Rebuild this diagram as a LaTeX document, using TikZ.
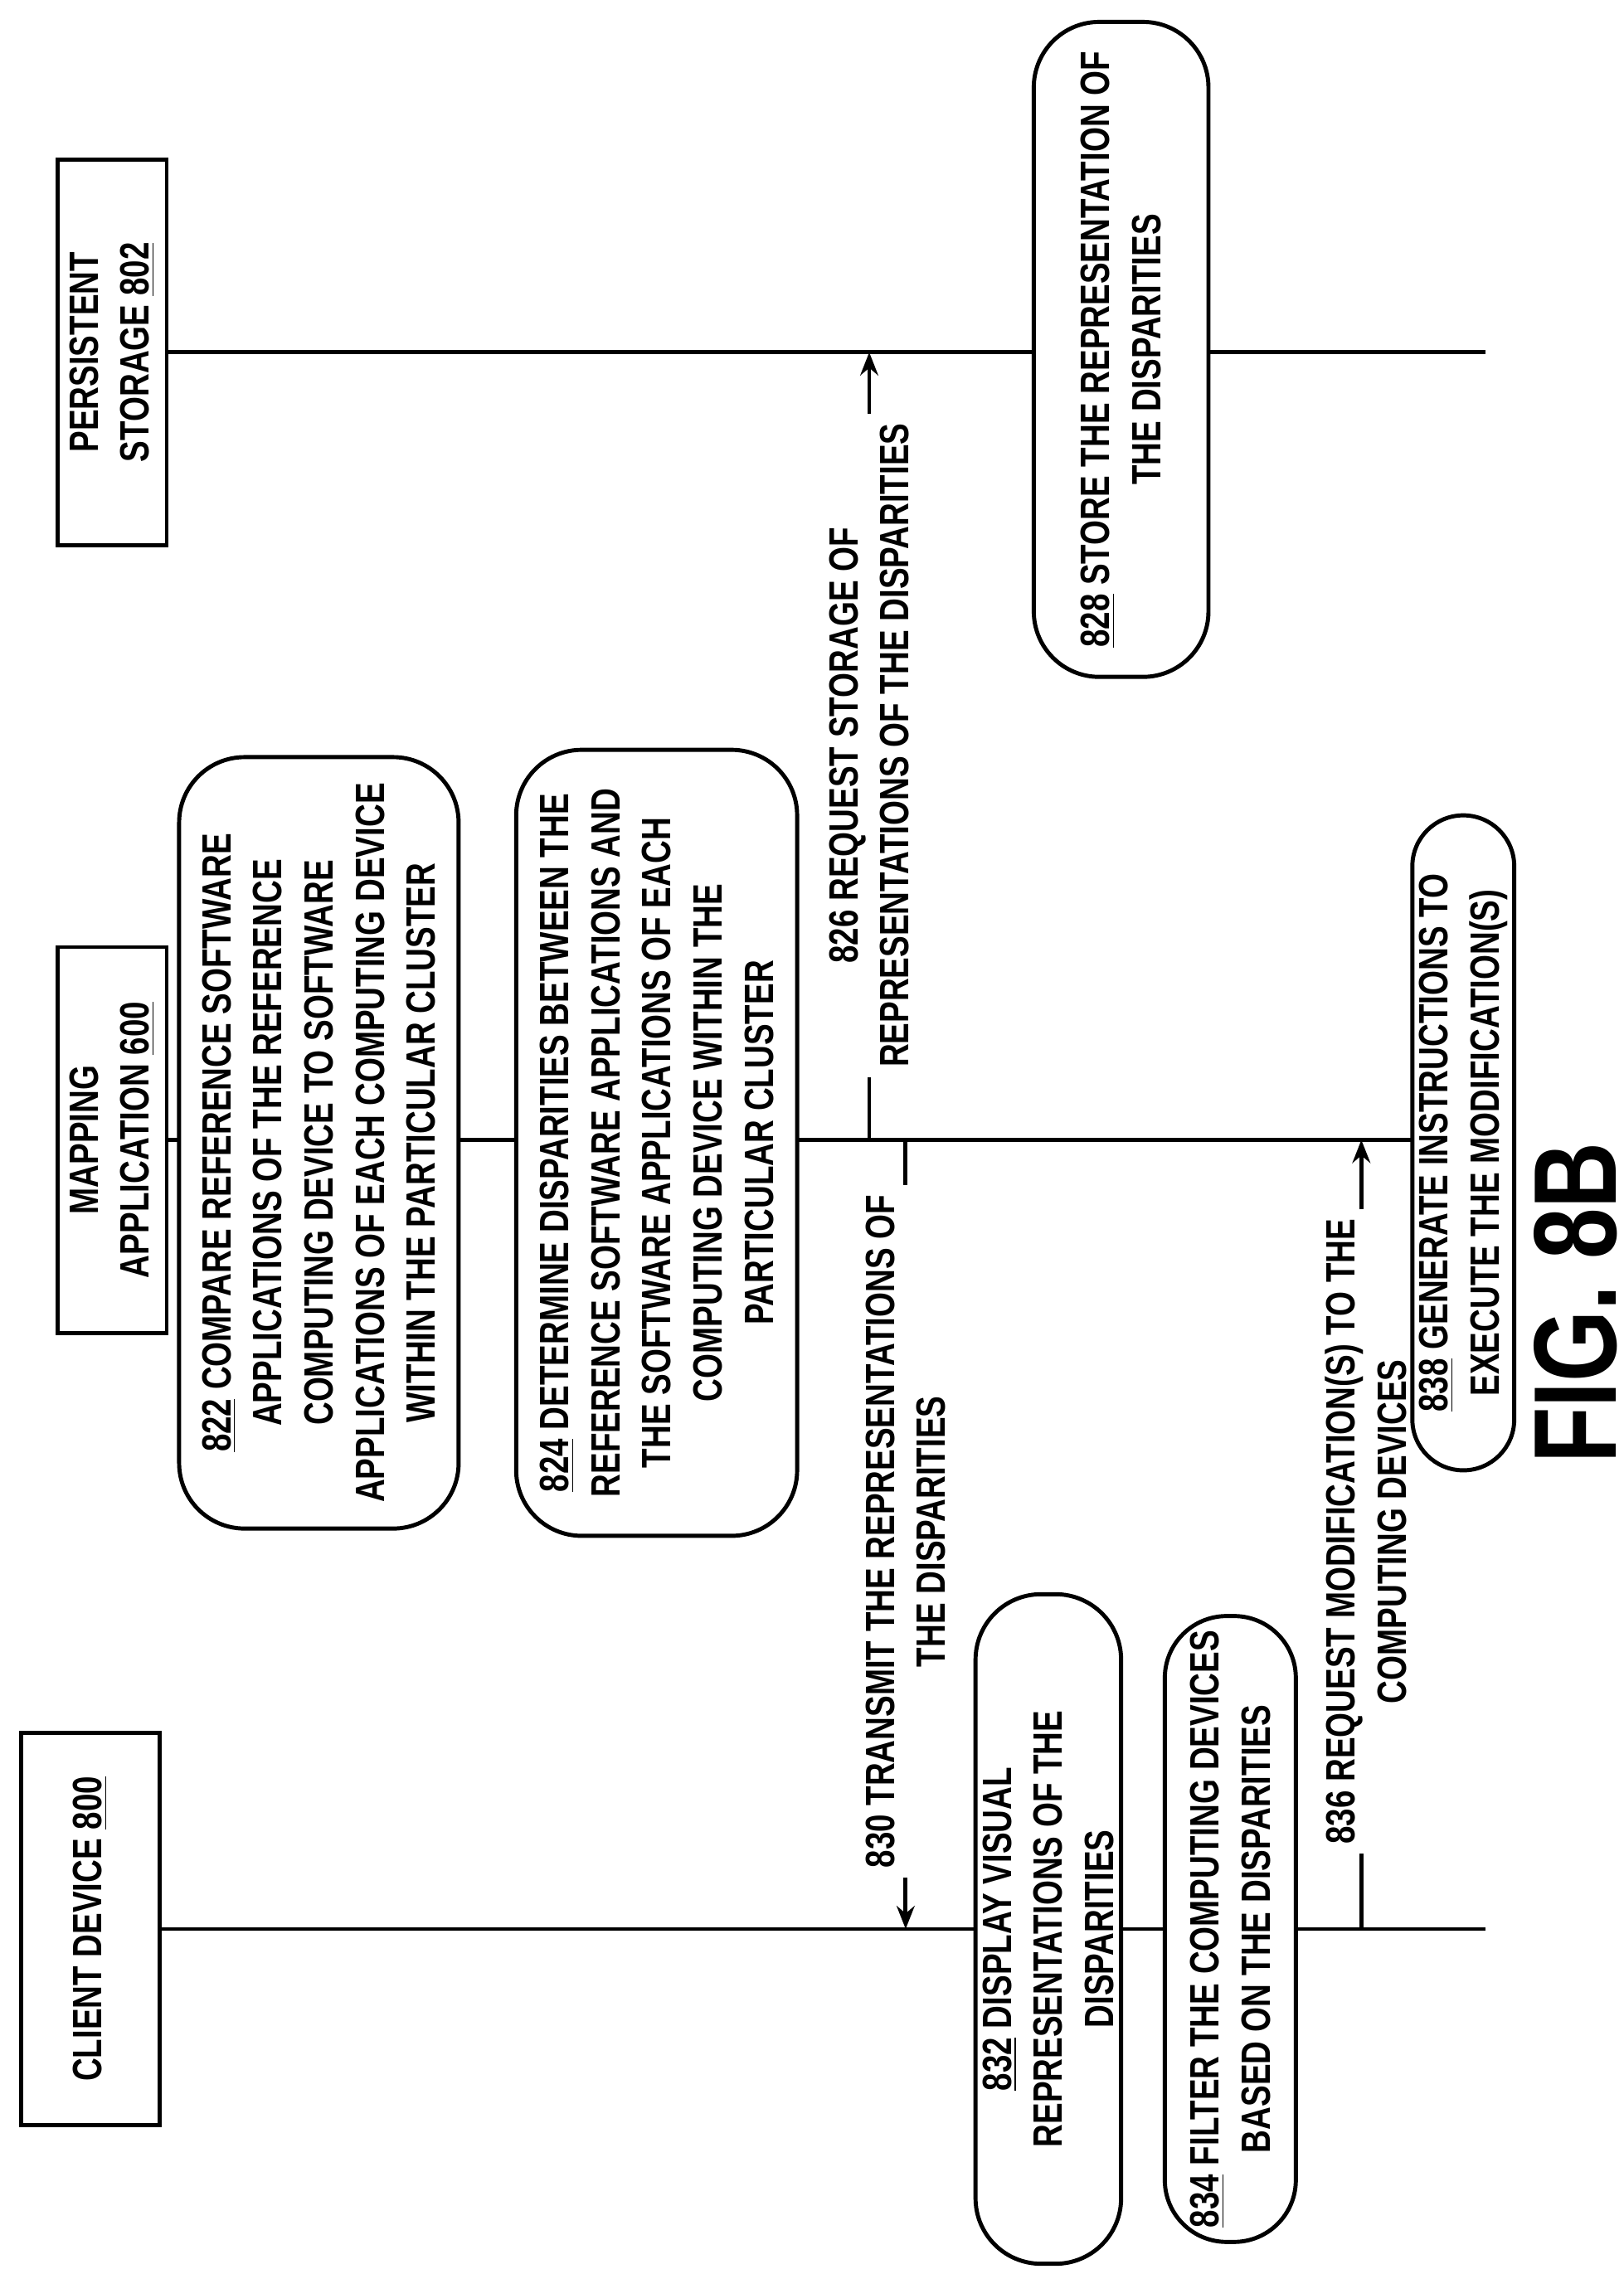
\documentclass[tikz,border=0pt]{standalone}
\usepackage{fontspec}
\setmainfont{Liberation Sans}[FakeStretch=0.78]
\usetikzlibrary{arrows.meta}
\begin{document}
\begin{tikzpicture}[x=0.02cm,y=-0.02cm,line width=1.6pt,
  every node/.style={font=\bfseries\fontsize{16}{20}\selectfont},
  head/.style={draw,rotate=90,align=center,fill=white,inner sep=2pt},
  action/.style={draw,rotate=90,align=center,fill=white,rounded corners=0.9cm,inner sep=2pt},
  msg/.style={rotate=90,align=center,inner sep=3pt},
  tip/.style={-{Stealth[length=9pt,width=7pt]}}]
\useasboundingbox (0,0) rectangle (1115,1562);
% lifelines
\draw (90,1325) -- (1020,1325);
\draw (115,783) -- (1020,783);
\draw (115,242) -- (1020,242);
% headers
\node[head,minimum width=5.4cm,minimum height=1.9cm] (client) at (62,1325) {CLIENT DEVICE \underline{800}};
\node[head,minimum width=5.3cm,minimum height=1.5cm] (mapping) at (77,783) {MAPPING\\APPLICATION \underline{600}};
\node[head,minimum width=5.3cm,minimum height=1.5cm] (storage) at (77,242) {PERSISTENT\\STORAGE \underline{802}};
% steps
\node[action,minimum width=10.6cm,minimum height=3.84cm] (s822) at (219,785) {\underline{822} COMPARE REFERENCE SOFTWARE\\APPLICATIONS OF THE REFERENCE\\COMPUTING DEVICE TO SOFTWARE\\APPLICATIONS OF EACH COMPUTING DEVICE\\WITHIN THE PARTICULAR CLUSTER};
\node[action,minimum width=10.8cm,minimum height=3.86cm] (s824) at (451,785) {\underline{824} DETERMINE DISPARITIES BETWEEN THE\\REFERENCE SOFTWARE APPLICATIONS AND\\THE SOFTWARE APPLICATIONS OF EACH\\COMPUTING DEVICE WITHIN THE\\PARTICULAR CLUSTER};
\node[action,minimum width=9.2cm,minimum height=2cm] (s832) at (720,1325) {\underline{832} DISPLAY VISUAL\\REPRESENTATIONS OF THE\\DISPARITIES};
\node[action,minimum width=8.6cm,minimum height=1.8cm,rounded corners=0.85cm] (s834) at (845,1325) {\underline{834} FILTER THE COMPUTING DEVICES\\BASED ON THE DISPARITIES};
\node[action,minimum width=9cm,minimum height=1.4cm,rounded corners=0.7cm] (s838) at (1005,785) {\underline{838} GENERATE INSTRUCTIONS TO\\EXECUTE THE MODIFICATION(S)};
\node[action,minimum width=9cm,minimum height=2.4cm] (s828) at (770,240) {\underline{828} STORE THE REPRESENTATION OF\\THE DISPARITIES};
% messages
\coordinate (a826) at (597,783);
\coordinate (b826) at (597,242);
\node[msg] (l826) at (597,512) {826 REQUEST STORAGE OF\\REPRESENTATIONS OF THE DISPARITIES};
\draw (a826) -- (a826 |- l826.west);
\draw[tip] (b826 |- l826.east) -- (b826);
\coordinate (a830) at (622,783);
\coordinate (b830) at (622,1325);
\node[msg] (l830) at (622,1052) {830 TRANSMIT THE REPRESENTATIONS OF\\THE DISPARITIES};
\draw (a830) -- (a830 |- l830.east);
\draw[tip] (b830 |- l830.west) -- (b830);
\coordinate (a836) at (935,1325);
\coordinate (b836) at (935,783);
\node[msg] (l836) at (938,1052) {836 REQUEST MODIFICATION(S) TO THE\\COMPUTING DEVICES};
\draw (a836) -- (a836 |- l836.west);
\draw[tip] (b836 |- l836.east) -- (b836);
% figure label
\node[rotate=90,font=\bfseries\fontsize{46}{46}\selectfont] (fig) at (1082,895) {FIG. 8B};
\end{tikzpicture}
\end{document}
